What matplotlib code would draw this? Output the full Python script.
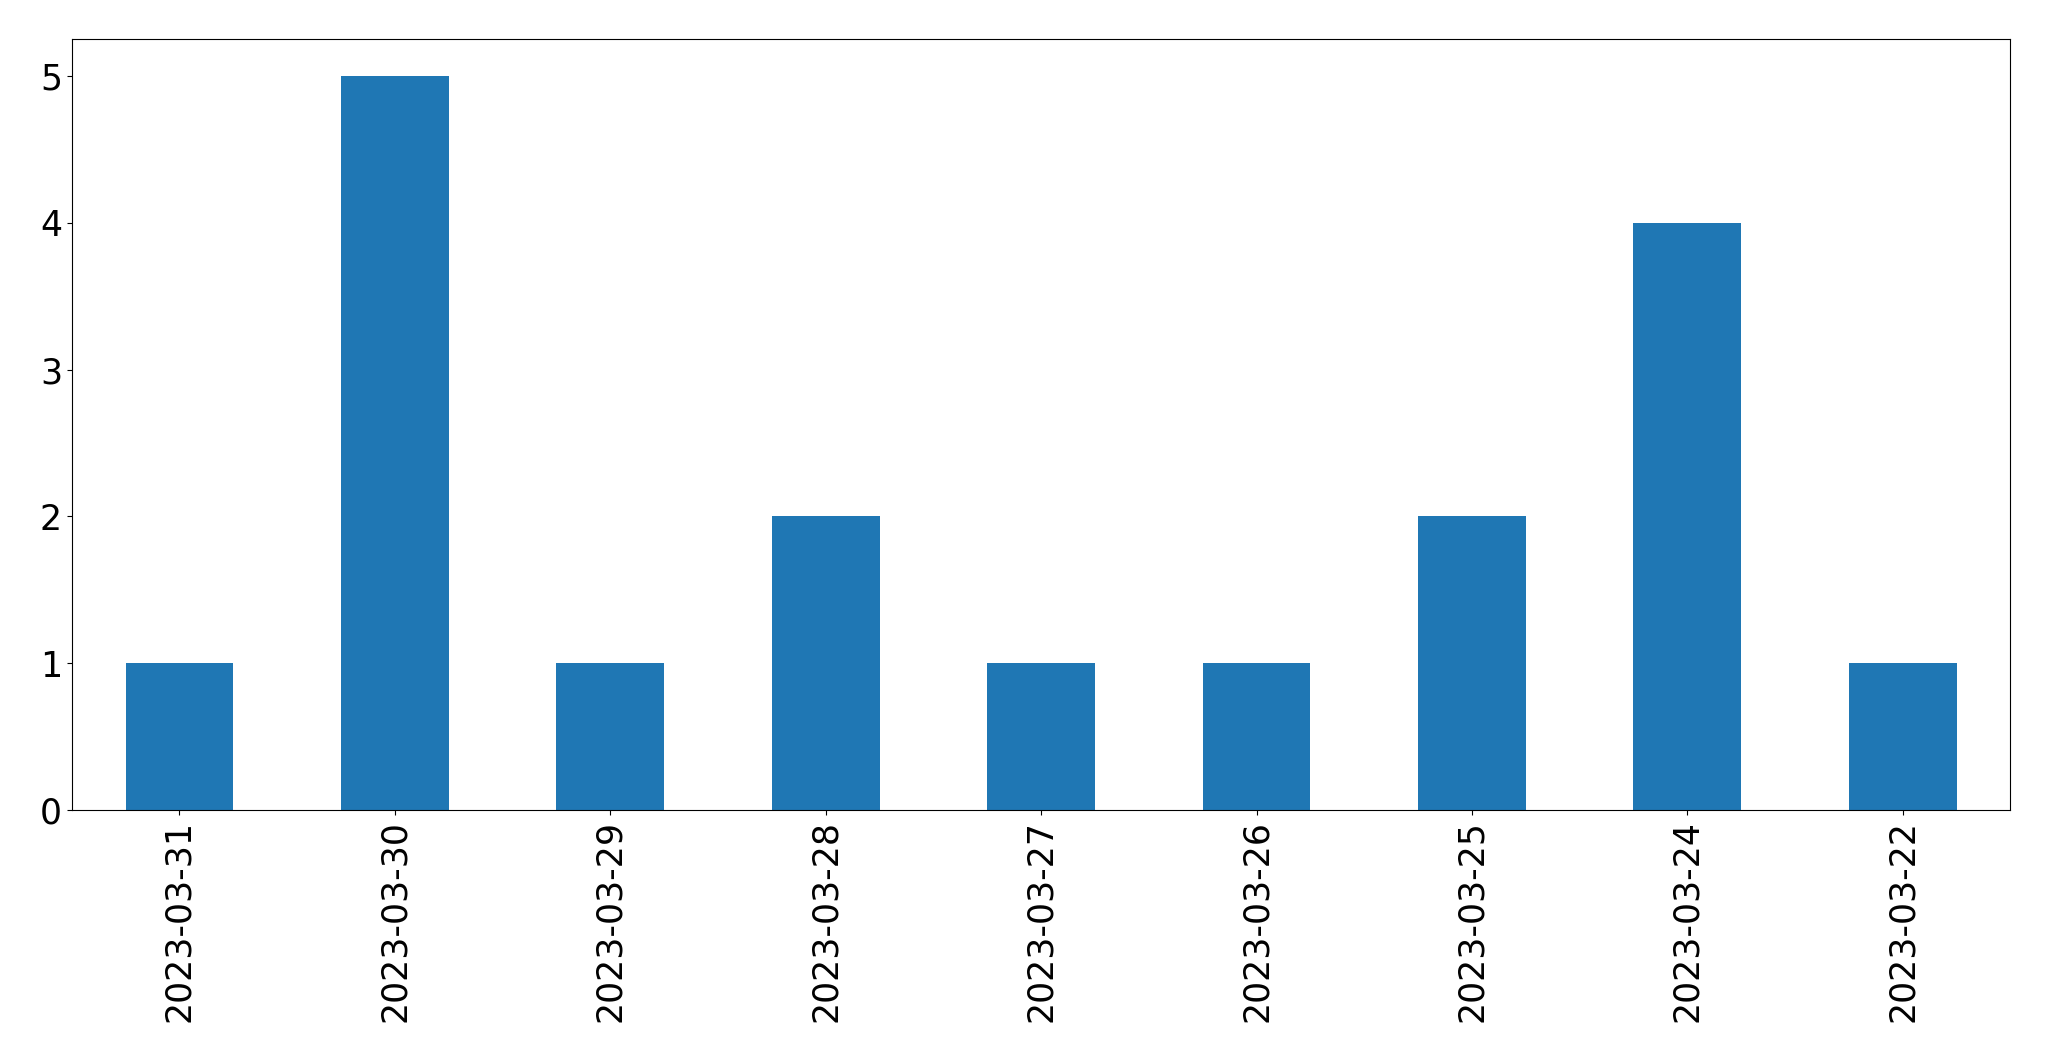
import matplotlib
matplotlib.use("Agg")
import matplotlib.pyplot as plt

dates = ["2023-03-31", "2023-03-30", "2023-03-29", "2023-03-28", "2023-03-27",
         "2023-03-26", "2023-03-25", "2023-03-24", "2023-03-22"]
counts = [1, 5, 1, 2, 1, 1, 2, 4, 1]

fig = plt.figure(figsize=(20.49, 10.61), dpi=100)
ax = fig.add_axes([0.035, 0.2365, 0.9462, 0.7265])
x = list(range(len(dates)))
ax.bar(x, counts, width=0.5, color="#1f77b4")
ax.set_xlim(-0.5, len(dates) - 0.5)
ax.set_xticks(x)
ax.set_xticklabels(dates, rotation=90, fontsize=25)
ax.tick_params(axis="y", labelsize=25)
ax.set_ylim(0, 5.25)
fig.savefig("out.png", dpi=100)
